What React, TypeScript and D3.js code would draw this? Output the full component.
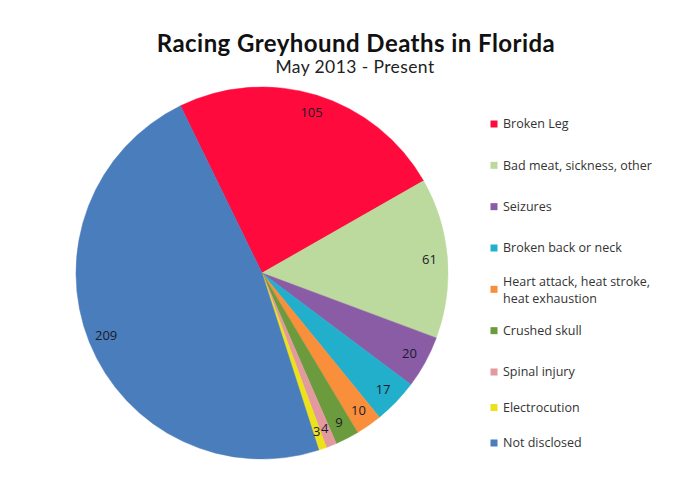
import React, { useEffect, useRef } from 'react';
import * as d3 from 'd3';

const categories = [
  'Broken Leg',
  'Bad meat, sickness, other',
  'Seizures',
  'Broken back or neck',
  'Heart attack, heat stroke, heat exhaustion',
  'Crushed skull',
  'Spinal injury',
  'Electrocution',
  'Not disclosed',
];
const legendLines = [
  ['Broken Leg'],
  ['Bad meat, sickness, other'],
  ['Seizures'],
  ['Broken back or neck'],
  ['Heart attack, heat stroke,', 'heat exhaustion'],
  ['Crushed skull'],
  ['Spinal injury'],
  ['Electrocution'],
  ['Not disclosed'],
];
const deaths = [105, 61, 20, 17, 10, 9, 4, 3, 209];
const sliceColors = [
  '#FF0A3C', '#BCDA9E', '#8A5CA5', '#21AFCB', '#F98E3B',
  '#6B9B3C', '#E39A9F', '#ECE21B', '#4A7DBC',
];

const App: React.FC = () => {
  const ref = useRef<SVGSVGElement | null>(null);

  useEffect(() => {
    const width = 700;
    const height = 493;
    const svg = d3.select(ref.current);
    svg.selectAll('*').remove();
    svg.attr('width', width).attr('height', height);

    svg.append('rect').attr('width', width).attr('height', height).attr('fill', '#fff');

    // Title
    svg.append('text')
      .attr('x', 356)
      .attr('y', 51.5)
      .attr('text-anchor', 'middle')
      .style('font-family', 'Lato, sans-serif')
      .style('font-weight', 'bold')
      .style('font-size', '24px')
      .style('letter-spacing', '0.45px')
      .style('fill', '#111')
      .text('Racing Greyhound Deaths in Florida');

    svg.append('text')
      .attr('x', 355)
      .attr('y', 73)
      .attr('text-anchor', 'middle')
      .style('font-family', 'Lato, sans-serif')
      .style('font-size', '17.5px')
      .style('letter-spacing', '0.4px')
      .style('fill', '#222')
      .text('May 2013 - Present');

    // Pie
    const cx = 262;
    const cy = 273;
    const radius = 186;
    const start = (-26 * Math.PI) / 180;

    const pie = d3.pie<number>()
      .sort(null)
      .value(d => d)
      .startAngle(start)
      .endAngle(start + 2 * Math.PI);
    const arcs = pie(deaths);

    const arc = d3.arc<d3.PieArcDatum<number>>().innerRadius(0).outerRadius(radius);
    const labelArc = d3.arc<d3.PieArcDatum<number>>().innerRadius(168).outerRadius(168);

    const g = svg.append('g').attr('transform', `translate(${cx},${cy})`);

    g.selectAll('path')
      .data(arcs)
      .enter().append('path')
      .attr('d', arc)
      .attr('fill', (_, i) => sliceColors[i])
      .attr('stroke', (_, i) => sliceColors[i])
      .attr('stroke-width', 0.5);

    g.selectAll('text')
      .data(arcs)
      .enter().append('text')
      .attr('transform', d => `translate(${labelArc.centroid(d)})`)
      .attr('text-anchor', 'middle')
      .attr('dy', '0.35em')
      .style('font-family', '"Open Sans", sans-serif')
      .style('font-size', '13px')
      .style('fill', '#1a1a2a')
      .text(d => String(d.data));

    // Legend
    const legendY = d3.scaleLinear().domain([0, 6, 8]).range([124, 372, 443]);
    const legend = svg.append('g');
    categories.forEach((cat, i) => {
      const y = legendY(i);
      legend.append('rect')
        .attr('x', 490.5)
        .attr('y', y - 3.5)
        .attr('width', 7)
        .attr('height', 7)
        .attr('fill', sliceColors[i]);
      const lines = legendLines[i];
      lines.forEach((line, j) => {
        const offset = lines.length === 1 ? 0 : (j === 0 ? -8 : 9);
        legend.append('text')
          .attr('x', 503)
          .attr('y', y + offset)
          .attr('dy', '0.35em')
          .style('font-family', '"Open Sans", sans-serif')
          .style('font-size', '12.5px')
          .style('fill', '#333')
          .text(line);
      });
    });
  }, []);

  return (
    <div>
      <svg ref={ref} style={{ position: 'absolute', left: 0, top: 0, display: 'block' }}></svg>
    </div>
  );
};

export default App;
